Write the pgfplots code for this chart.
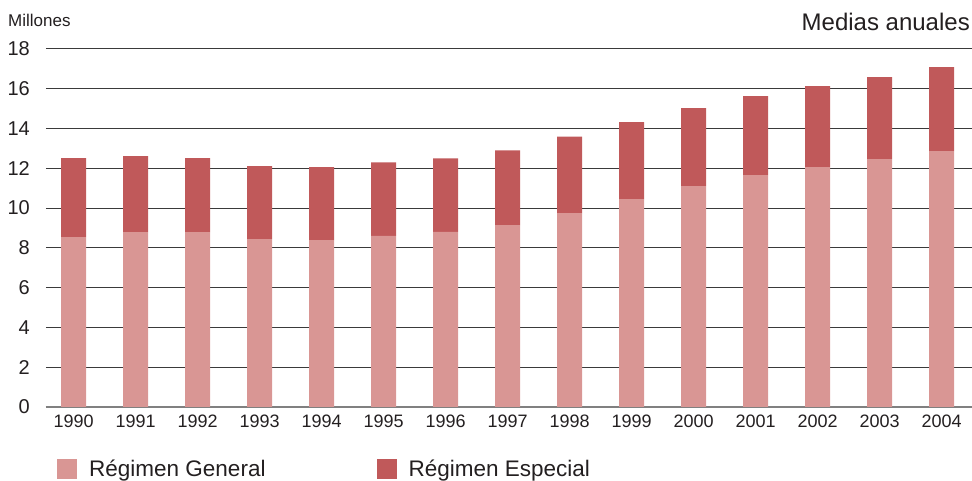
\documentclass[border=0pt]{standalone}
\usepackage{fontspec}
\setmainfont{Liberation Sans}
\usepackage{pgfplots}
\pgfplotsset{compat=1.18}
\definecolor{gen}{HTML}{D99694}
\definecolor{esp}{HTML}{C0595A}
\definecolor{txt}{HTML}{231F20}
\definecolor{gridc}{HTML}{3A3A3A}
\begin{document}
\begin{tikzpicture}[x=1pt,y=1pt]
\path[use as bounding box] (0,0) rectangle (972,481);
\begin{axis}[
  at={(46pt,74pt)}, anchor=south west,
  scale only axis, width=926pt, height=358pt,
  xmin=-0.444, xmax=14.49, ymin=0, ymax=18,
  ybar stacked, bar width=25pt,
  xtick={0,...,14},
  xticklabels={1990,1991,1992,1993,1994,1995,1996,1997,1998,1999,2000,2001,2002,2003,2004},
  ytick={0,2,...,18},
  major tick length=0pt,
  /pgf/number format/assume math mode=true,
  ymajorgrids, grid style={gridc, line width=1pt},
  axis lines*=left,
  y axis line style={draw=none},
  x axis line style={gray, line width=1.5pt},
  tick label style={text=txt},
  xticklabel style={font=\fontsize{18}{20}\selectfont, anchor=north, inner sep=0pt, yshift=-8pt},
  yticklabel style={font=\fontsize{20}{22}\selectfont, anchor=east, inner sep=0pt, xshift=-16pt},
  legend columns=2,
  legend image code/.code={\fill[#1] (0pt,-10pt) rectangle (20pt,10pt);},
  legend style={at={(axis description cs:0.0119,-0.172)}, anchor=west, draw=none, fill=none,
    inner sep=0pt, font=\fontsize{22.5}{26}\selectfont, text=txt,
    /tikz/every odd column/.append style={column sep=10pt},
    /tikz/every even column/.append style={column sep=109pt}},
]
\addplot[fill=gen, draw=none] coordinates {
(0,8.54) (1,8.79) (2,8.79) (3,8.44) (4,8.39) (5,8.60) (6,8.80) (7,9.15)
(8,9.75) (9,10.45) (10,11.10) (11,11.66) (12,12.06) (13,12.46) (14,12.86)};
\addplot[fill=esp, draw=none] coordinates {
(0,3.97) (1,3.82) (2,3.72) (3,3.67) (4,3.67) (5,3.70) (6,3.70) (7,3.75)
(8,3.85) (9,3.87) (10,3.93) (11,3.97) (12,4.07) (13,4.12) (14,4.23)};
\legend{Régimen General, Régimen Especial}
\end{axis}
\node[anchor=west, inner sep=0pt, text=txt, font=\fontsize{17}{20}\selectfont] at (8,461) {Millones};
\node[anchor=east, inner sep=0pt, text=txt, font=\fontsize{24}{28}\selectfont] at (970,459) {Medias anuales};
\end{tikzpicture}
\end{document}
